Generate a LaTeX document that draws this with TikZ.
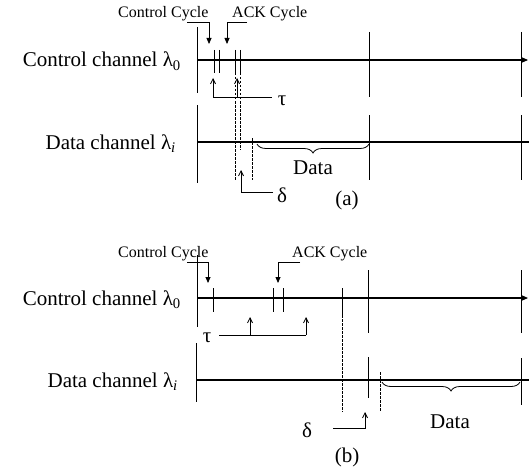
\documentclass[tikz,border=0pt]{standalone}
\usepackage{fontspec}
\setmainfont{Liberation Serif}
\usetikzlibrary{arrows.meta,decorations.pathreplacing}
\tikzset{
  axisline/.style={line width=1.1pt,-{Triangle[length=6pt,width=5pt]}},
  dataline/.style={line width=1.1pt},
  bar/.style={line width=0.9pt},
  dline/.style={line width=0.7pt,dash pattern=on 2.5pt off 1.5pt},
  uparr/.style={line width=0.8pt,-{Straight Barb[length=5pt,width=5pt]}},
  callout/.style={line width=0.8pt,-{Triangle[length=6pt,width=5pt]}},
  bracket/.style={line width=0.8pt},
  chlab/.style={font=\fontsize{21}{24}\selectfont,inner sep=0pt},
  cyclab/.style={font=\fontsize{16}{18}\selectfont,inner sep=0pt,anchor=base west},
  sym/.style={font=\fontsize{21}{24}\selectfont,inner sep=0pt},
  databrace/.style={decorate,decoration={brace,amplitude=9pt},line width=0.8pt},
}
\begin{document}
\begin{tikzpicture}[x=1pt,y=-1pt]
\useasboundingbox (0,0) rectangle (529,468);
% ================= (a) =================
\node[chlab,anchor=base east] (ctlA) at (181,67) {Control channel λ\textsubscript{0}};
\node[chlab,anchor=base east] (datA) at (176,149) {Data channel λ\textsubscript{\textit{i}}};
\node[cyclab] (ccA) at (118,18) {Control Cycle};
\node[cyclab] (ackA) at (232,18) {ACK Cycle};
\coordinate (a0) at (197,60); \coordinate (aend) at (528,60);
\coordinate (d0) at (197,142); \coordinate (dend) at (529,142);
\draw[axisline] (a0) -- (aend);
\draw[dataline] (d0) -- (dend);
% verticals
\draw[bar] (197,27) -- (197,93);
\draw[bar] (197,105) -- (197,183);
\draw[bar] (369,32) -- (369,97);
\draw[bar] (369,115) -- (369,180);
\draw[bar] (521,32) -- (521,97);
\draw[bar] (521,115) -- (521,180);
% ticks
\draw[bar] (214,50) -- (214,73);
\draw[bar] (219,50) -- (219,73);
\draw[bar] (235,50) -- (235,73);
\draw[bar] (240,50) -- (240,73);
\draw[dline] (235,73) -- (235,180);
\draw[dline] (240,73) -- (240,150);
\draw[dline] (252,138) -- (252,180);
% callouts
\coordinate (ccAt) at (209,44); \coordinate (ackAt) at (227,44);
\draw[callout] (187,22) -| (ccAt);
\draw[callout] (247,22) -| (ackAt);
% tau
\node[sym] (tauA) at (282,101) {τ};
\coordinate (tauA1) at (213,78); \coordinate (tauA2) at (237,78);
\draw[bracket] (tauA.west) ++(-6,-4) -- (213,97);
\draw[uparr] (213,97) -- (tauA1);
\draw[uparr] (237,97) -- (tauA2);
% delta
\node[sym] (delA) at (282,195) {δ};
\coordinate (delA1) at (241,170);
\draw[uparr] (273,192) -| (delA1);
% data brace
\draw[databrace] (369,144) -- (257,144);
\node[sym] (dA) at (313,168) {Data};
\node[sym] (labA) at (347,200) {(a)};
% ================= (b) =================
\node[chlab,anchor=base east] (ctlB) at (181,305) {Control channel λ\textsubscript{0}};
\node[chlab,anchor=base east] (datB) at (178,387) {Data channel λ\textsubscript{\textit{i}}};
\node[cyclab] (ccB) at (118,257) {Control Cycle};
\node[cyclab] (ackB) at (292,257) {ACK Cycle};
\coordinate (b0) at (197,298); \coordinate (bend) at (528,298);
\coordinate (e0) at (196,380); \coordinate (eend) at (529,380);
\draw[axisline] (b0) -- (bend);
\draw[dataline] (e0) -- (eend);
% verticals
\draw[bar] (197,255) -- (197,327);
\draw[bar] (196,343) -- (196,402);
\draw[bar] (342,288) -- (342,315);
\draw[dline] (342,315) -- (342,412);
\draw[bar] (368,270) -- (368,333);
\draw[bar] (368,357) -- (368,398);
\draw[bar] (521,270) -- (521,333);
\draw[bar] (521,358) -- (521,405);
\draw[dline] (380,372) -- (380,412);
% ticks
\draw[bar] (213,288) -- (213,312);
\draw[bar] (273,288) -- (273,312);
\draw[bar] (283,288) -- (283,312);
% callouts
\coordinate (ccBt) at (208,283); \coordinate (ackBt) at (278,283);
\draw[callout] (187,262) -| (ccBt);
\draw[callout] (300,262) -| (ackBt);
% tau
\node[sym] (tauB) at (207,338) {τ};
\coordinate (tauB1) at (250,317); \coordinate (tauB2) at (306,317);
\draw[bracket] (219,335) -- (306,335);
\draw[uparr] (250,335) -- (tauB1);
\draw[uparr] (306,335) -- (tauB2);
% delta
\node[sym] (delB) at (307,430) {δ};
\coordinate (delB1) at (365,412);
\draw[uparr] (333,428) -| (delB1);
% data brace
\draw[databrace] (520,382) -- (382,382);
\node[sym] (dB) at (450,422) {Data};
\node[sym] (labB) at (347,457) {(b)};
\end{tikzpicture}
\end{document}
